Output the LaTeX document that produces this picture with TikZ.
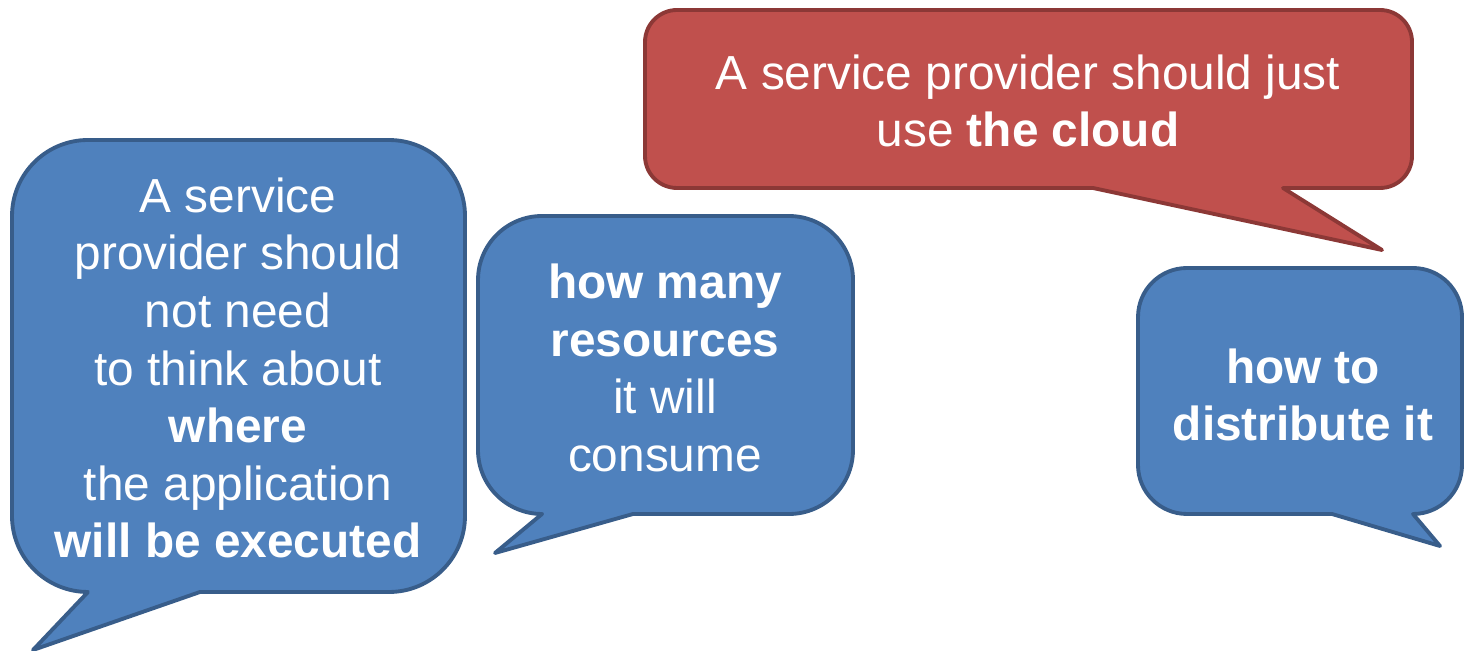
\documentclass[tikz,border=0pt]{standalone}
\usepackage{fontspec}
\setmainfont{Liberation Sans}
\usepackage{tikz}
\usetikzlibrary{positioning}
\usepackage{xcolor}
\definecolor{bubblue}{RGB}{79,129,189}
\definecolor{bubblueline}{RGB}{56,93,138}
\definecolor{bubred}{RGB}{192,80,77}
\definecolor{bubredline}{RGB}{140,56,54}
\begin{document}
\begin{tikzpicture}[x=0.02cm,y=-0.02cm,
  bluebubble/.style={fill=bubblue,draw=bubblueline,line width=2.2pt,line join=round},
  redbubble/.style={fill=bubred,draw=bubredline,line width=2.2pt,line join=round},
  every node/.style={text=white,align=center,
    font=\fontsize{27.2}{32.8}\selectfont}]
\useasboundingbox (0,0) rectangle (1464,651);
\draw[bluebubble] (88,592) -- (33,650) -- (200,592) -- (389,592)
  arc[start angle=270,end angle=360,radius=1.52cm] -- (465,216)
  arc[start angle=0,end angle=90,radius=1.52cm] -- (88,140)
  arc[start angle=90,end angle=180,radius=1.52cm] -- (12,516)
  arc[start angle=180,end angle=270,radius=1.52cm] -- cycle;
\draw[bluebubble] (542,514) -- (495,553) -- (633,514) -- (789,514)
  arc[start angle=270,end angle=360,radius=1.28cm] -- (853,280)
  arc[start angle=0,end angle=90,radius=1.28cm] -- (542,216)
  arc[start angle=90,end angle=180,radius=1.28cm] -- (478,450)
  arc[start angle=180,end angle=270,radius=1.28cm] -- cycle;
\draw[redbubble] (1093,188) -- (1382,250) -- (1283,188) -- (1380,188)
  arc[start angle=270,end angle=360,radius=0.64cm] -- (1412,42)
  arc[start angle=0,end angle=90,radius=0.64cm] -- (677,10)
  arc[start angle=90,end angle=180,radius=0.64cm] -- (645,156)
  arc[start angle=180,end angle=270,radius=0.64cm] -- cycle;
\draw[bluebubble] (1332,514) -- (1440,546) -- (1413,514)
  arc[start angle=270,end angle=360,radius=0.98cm] -- (1462,317)
  arc[start angle=0,end angle=90,radius=0.98cm] -- (1187,268)
  arc[start angle=90,end angle=180,radius=0.98cm] -- (1138,465)
  arc[start angle=180,end angle=270,radius=0.98cm] -- cycle;
\node (where) at (238,368) {A service\\provider should\\not need\\to think about\\
  \textbf{where}\\the application\\\textbf{will be executed}};
\node (howmany) at (665,368) {\textbf{how many}\\\textbf{resources}\\it will\\consume};
\node (cloud) at (1028,101) {A service provider should just\\use \textbf{the cloud}};
\node (distrib) at (1303,395) {\textbf{how to}\\\textbf{distribute it}};
\end{tikzpicture}
\end{document}
